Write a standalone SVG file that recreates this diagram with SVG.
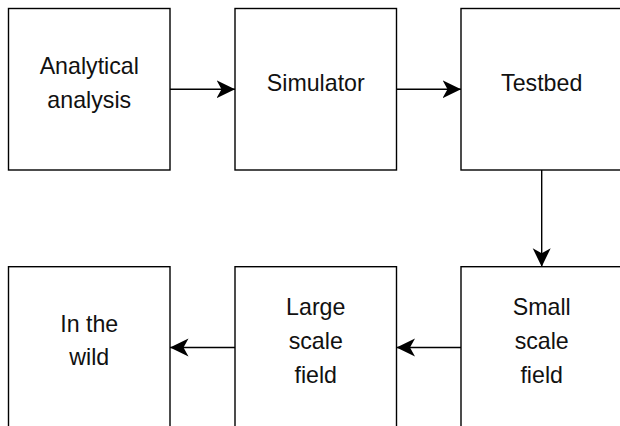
<svg xmlns="http://www.w3.org/2000/svg" width="620" height="426" viewBox="0 0 620 426">
  <style>
    .box { fill: #ffffff; stroke: #000000; stroke-width: 1.4; }
    .lbl { font-family: "Liberation Sans", Arial, Helvetica, sans-serif; font-size: 23.2px; fill: #111111; text-anchor: middle; }
    .edge { fill: none; stroke: #000000; stroke-width: 1.4; marker-end: url(#arrow); }
  </style>
  <defs>
    <marker id="arrow" markerUnits="userSpaceOnUse" markerWidth="20" markerHeight="20" refX="18.5" refY="9" orient="auto" viewBox="0 0 20 18">
      <path d="M0,0 L18.5,9 L0,18 L5,9 Z" fill="#000000"/>
    </marker>
  </defs>
  <rect width="620" height="426" fill="#ffffff"/>

  <g id="connectors">
    <path class="edge" d="M170,89.2 L235,89.2"/>
    <path class="edge" d="M396.5,89.2 L461,89.2"/>
    <path class="edge" d="M541.7,170 L541.7,266.7"/>
    <path class="edge" d="M461,347.5 L396.5,347.5"/>
    <path class="edge" d="M235,347.5 L170,347.5"/>
  </g>

  <g id="node-analytical">
    <rect class="box" x="8.5" y="8.5" width="161.5" height="161.5"/>
    <text class="lbl" x="89.25" y="73.5">Analytical</text>
    <text class="lbl" x="89.25" y="108">analysis</text>
  </g>
  <g id="node-simulator">
    <rect class="box" x="235" y="8.5" width="161.5" height="161.5"/>
    <text class="lbl" x="315.75" y="90.7">Simulator</text>
  </g>
  <g id="node-testbed">
    <rect class="box" x="461" y="8.5" width="161.5" height="161.5"/>
    <text class="lbl" x="541.7" y="90.7">Testbed</text>
  </g>
  <g id="node-small-scale-field">
    <rect class="box" x="461" y="266.7" width="161.5" height="161.5"/>
    <text class="lbl" x="541.7" y="315">Small</text>
    <text class="lbl" x="541.7" y="349">scale</text>
    <text class="lbl" x="541.7" y="382.7">field</text>
  </g>
  <g id="node-large-scale-field">
    <rect class="box" x="235" y="266.7" width="161.5" height="161.5"/>
    <text class="lbl" x="315.75" y="315">Large</text>
    <text class="lbl" x="315.75" y="349">scale</text>
    <text class="lbl" x="315.75" y="382.7">field</text>
  </g>
  <g id="node-in-the-wild">
    <rect class="box" x="8.5" y="266.7" width="161.5" height="161.5"/>
    <text class="lbl" x="89.25" y="331.7">In the</text>
    <text class="lbl" x="89.25" y="365">wild</text>
  </g>
</svg>
